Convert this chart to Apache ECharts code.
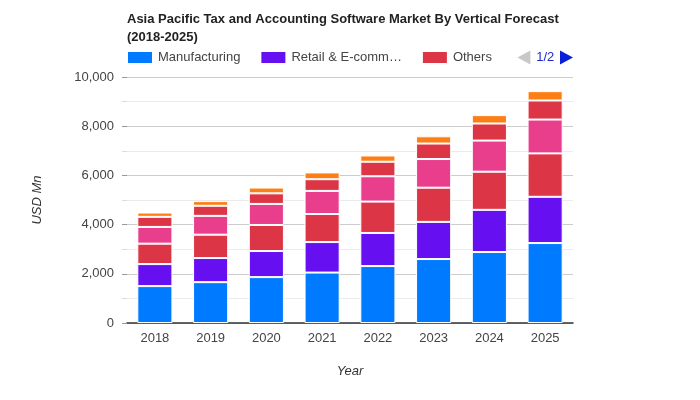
<!DOCTYPE html>
<html><head><meta charset="utf-8">
<script src="https://cdn.jsdelivr.net/npm/echarts@6/dist/echarts.min.js"></script>
<style>html,body{margin:0;padding:0;background:#fff}#c{width:700px;height:400px}</style>
</head><body><div id="c"></div>
<script>
const years = ['2018','2019','2020','2021','2022','2023','2024','2025'];
const manufacturing = [1500, 1660, 1865, 2050, 2315, 2600, 2885, 3250];
const retail = [895, 980, 1060, 1240, 1345, 1510, 1715, 1880];
const others = [830, 950, 1060, 1140, 1275, 1390, 1550, 1765];
const bfsi = [680, 765, 855, 940, 1030, 1165, 1265, 1375];
const healthcare = [410, 410, 430, 475, 590, 630, 695, 775];
const energy = [175, 190, 235, 275, 255, 295, 340, 380];
const seriesNames = ['Manufacturing','Retail & E-commerce','Others','BFSI','Healthcare','Energy'];
const seriesData = [manufacturing, retail, others, bfsi, healthcare, energy];
const colors = ['#007BFF','#6610F2','#DC3545','#E83E8C','#DC3545','#FD7E14'];
const yTicks = [0, 2000, 4000, 6000, 8000, 10000];

const chart = echarts.init(document.getElementById('c'));
const font = '"Liberation Sans", Arial, sans-serif';
chart.setOption({
  animation: false,
  color: colors,
  title: {
    text: 'Asia Pacific Tax and Accounting Software Market By Vertical Forecast\n(2018-2025)',
    left: 127, top: 10, padding: 0,
    textStyle: {fontFamily: font, fontSize: 13, fontWeight: 'bold', color: '#222', lineHeight: 18}
  },
  legend: {
    type: 'scroll', left: 126, top: 50, width: 447, padding: 0,
    itemWidth: 26, itemHeight: 13, itemGap: 19,
    icon: 'rect',
    formatter: n => n.length > 15 ? n.slice(0, 15) + '…' : n,
    textStyle: {fontFamily: font, fontSize: 13, color: '#444'},
    pageIcons: {horizontal: ['path://M0,7L13,0L13,14z', 'path://M13,7L0,0L0,14z']},
    pageIconColor: '#0a1fd6', pageIconInactiveColor: '#c8c8c8', pageIconSize: [13, 14],
    pageTextStyle: {color: '#1a2ad0', fontFamily: font, fontSize: 13},
    pageButtonItemGap: 0, pageButtonGap: 10
  },
  grid: {left: 127, right: 127, top: 77, bottom: 77},
  xAxis: {
    type: 'category', data: years,
    name: 'Year', nameLocation: 'middle', nameGap: 42,
    nameTextStyle: {fontFamily: font, fontSize: 13, fontStyle: 'italic', color: '#333'},
    axisLine: {lineStyle: {color: '#333', width: 1.5}},
    axisTick: {show: false},
    axisLabel: {fontFamily: font, fontSize: 13, color: '#444', margin: 9}
  },
  yAxis: {
    type: 'value', min: 0, max: yTicks[yTicks.length-1], interval: 2000,
    name: 'USD Mn', nameLocation: 'middle', nameGap: 83, nameRotate: 90,
    nameTextStyle: {fontFamily: font, fontSize: 13, fontStyle: 'italic', color: '#333'},
    axisLine: {show: false},
    axisTick: {show: true, length: 5, lineStyle: {color: '#999'}},
    minorTick: {show: true, splitNumber: 2, length: 5, lineStyle: {color: '#ddd'}},
    axisLabel: {fontFamily: font, fontSize: 13, color: '#444', margin: 13,
      formatter: v => v.toLocaleString('en-US')},
    splitLine: {lineStyle: {color: '#ccc'}},
    minorSplitLine: {show: true, lineStyle: {color: '#ebebeb'}}
  },
  series: seriesNames.map((n, i) => ({
    name: n, type: 'bar', stack: 'total', data: seriesData[i],
    barWidth: '63%',
    itemStyle: {color: colors[i], borderColor: '#fff', borderWidth: 1}
  }))
});
</script></body></html>
